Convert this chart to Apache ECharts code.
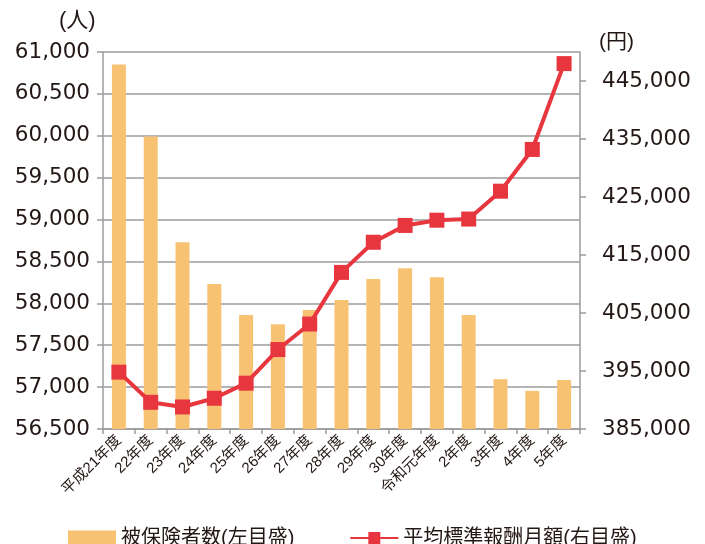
<!DOCTYPE html>
<html><head><meta charset="utf-8">
<script src="https://cdn.jsdelivr.net/npm/echarts@6/dist/echarts.min.js"></script>
<style>html,body{margin:0;padding:0;background:#fff}#c{width:705px;height:544px}</style>
</head><body><div id="c"></div>
<script>
const categories = ["平成21年度","22年度","23年度","24年度","25年度","26年度","27年度","28年度","29年度","30年度","令和元年度","2年度","3年度","4年度","5年度"];
const insured = [60850,59990,58730,58230,57860,57750,57920,58040,58290,58420,58310,57860,57095,56955,57085];
const avgSalary = [394800,389600,388800,390300,392900,398700,403100,412000,417200,420100,421000,421200,426000,433200,448000];
const rightTicks = [385000,395000,405000,415000,425000,435000,445000];
const seriesNames = ["被保険者数(左目盛)","平均標準報酬月額(右目盛)"];
const leftUnit = "(人)";
const rightUnit = "(円)";

const FONT = '"Liberation Sans","Noto Sans CJK JP",sans-serif';
const NUMFONT = '"DejaVu Sans","Noto Sans CJK JP",sans-serif';
const TXT = '#231815';
const GRAY = '#9b9b9b';
const fmt = v => v.toLocaleString('en-US');

const chart = echarts.init(document.getElementById('c'));
chart.setOption({
  animation: false,
  textStyle: {fontFamily: FONT, color: TXT},
  grid: {left: 103, right: 125, top: 52, bottom: 115},
  legend: {
    left: 63, top: 523, itemGap: 55, itemWidth: 48, itemHeight: 15,
    textStyle: {fontFamily: FONT, fontSize: 20, color: TXT},
    data: [
      {name: seriesNames[0], icon: 'rect'},
      {name: seriesNames[1]}
    ]
  },
  graphic: [
    {type: 'text', left: 59, top: 10, style: {text: leftUnit, font: '22px ' + FONT, fill: TXT}},
    {type: 'text', left: 599, top: 32, style: {text: rightUnit, font: '21px ' + FONT, fill: TXT}}
  ],
  xAxis: {
    type: 'category', data: categories,
    axisLine: {lineStyle: {color: GRAY, width: 1.5}},
    axisTick: {show: true, length: 5, lineStyle: {color: GRAY, width: 1.5}},
    axisLabel: {rotate: 45, interval: 0, fontSize: 15, color: TXT, margin: 9, fontFamily: FONT}
  },
  yAxis: [
    {
      type: 'value', min: 56500, max: 61000, interval: 500,
      axisLine: {show: true, lineStyle: {color: GRAY, width: 1.5}},
      axisTick: {show: true, length: 6, lineStyle: {color: GRAY, width: 1.5}},
      splitLine: {show: true, lineStyle: {color: GRAY, width: 1.5}},
      axisLabel: {fontSize: 21.5, color: TXT, margin: 13, formatter: fmt, fontFamily: NUMFONT}
    },
    {
      type: 'value', min: 385000, max: 450000, position: 'right',
      axisLine: {show: true, lineStyle: {color: GRAY, width: 1.5}},
      axisTick: {show: true, length: 6, lineStyle: {color: GRAY, width: 1.5}, customValues: rightTicks},
      splitLine: {show: false},
      axisLabel: {fontSize: 21.5, color: TXT, margin: 22, formatter: fmt, customValues: rightTicks, fontFamily: NUMFONT}
    }
  ],
  series: [
    {
      name: seriesNames[0], type: 'bar', yAxisIndex: 0, data: insured,
      barWidth: 14, itemStyle: {color: '#F8C273'}, z: 2
    },
    {
      name: seriesNames[1], type: 'line', yAxisIndex: 1, data: avgSalary,
      symbol: 'rect', symbolSize: 15,
      lineStyle: {color: '#E8363F', width: 4},
      itemStyle: {color: '#E8363F'}, z: 3
    }
  ]
});
</script></body></html>
